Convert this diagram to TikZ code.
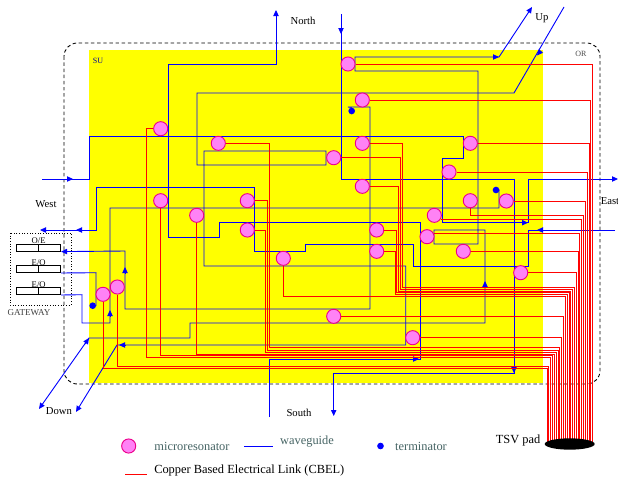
\documentclass[tikz,border=0pt]{standalone}
\usepackage{fontspec}
\setmainfont{Liberation Serif}
\usetikzlibrary{arrows.meta}
\usetikzlibrary{shapes.geometric}
\usetikzlibrary{backgrounds}
\definecolor{respink}{RGB}{255,130,245}
\definecolor{legendgray}{RGB}{70,100,100}
\definecolor{suyellow}{RGB}{255,255,0}
\definecolor{wgblue}{RGB}{0,0,255}
\definecolor{cbelred}{RGB}{255,0,0}

\begin{document}
\begin{tikzpicture}[
    x=0.75pt, y=-0.75pt,
    res/.style={circle, draw=magenta, fill=respink, line width=0.7pt, minimum size=10.6pt, inner sep=0pt},
    term/.style={circle, fill=wgblue, minimum size=5pt, inner sep=0pt},
    wg/.style={draw, color=wgblue, line width=0.68pt},
    wgtip/.style={wg, -{Triangle[length=4.5pt, width=4pt]}},
    cbel/.style={draw, color=cbelred, draw opacity=0.99, line width=0.6pt},
    conv/.style={rectangle, draw, line width=0.5pt, minimum width=33pt, minimum height=5.2pt, inner sep=0pt},
    txt/.style={inner sep=0pt, font=\fontsize{8}{9}\selectfont},
    small/.style={inner sep=0pt, font=\fontsize{6}{7}\selectfont},
    legend/.style={inner sep=0pt, font=\fontsize{9.3}{11}\selectfont}
]
\useasboundingbox (0,0) rectangle (618,482);

% --- Router labels ---
\node[small, text=blue!60!black] (su) at (98,61) {SU};
\node[small, text=black!70] (or) at (581,54) {OR};

% --- Gateway ---
\node[conv] (oe) at (38.7,247.8) {};
\node[conv] (eo1) at (38.7,269.2) {};
\node[conv] (eo2) at (38.7,291.2) {};
\foreach \c in {oe,eo1,eo2}
    \draw[line width=0.5pt] (\c.north) -- (\c.south);
\node[small, font=\fontsize{6.5}{7}\selectfont] (oel) at (38.7,241) {O/E};
\node[small, font=\fontsize{6.5}{7}\selectfont] (eol1) at (38.7,263) {E/O};
\node[small, font=\fontsize{6.5}{7}\selectfont] (eol2) at (38.7,285) {E/O};
\node[small, font=\fontsize{6.8}{8}\selectfont, text=black!75] (gw) at (29,313) {GATEWAY};

% --- Microresonators, numbered by their TSV ---
\foreach \i/\px/\py in {1/348/64, 2/362.3/100, 3/470.3/143.3, 4/449/172, 5/506.3/201,
    6/470.3/200.7, 7/434.3/215.3, 8/427/236.7, 9/463.3/251.3, 10/520.7/272.7,
    11/362.3/143.3, 12/333.7/157.7, 13/362.3/186.3, 14/376.7/230, 15/376.7/251.3,
    16/283.3/258.3, 17/333.7/316.3, 18/412.7/337.7, 19/218.3/143.3, 20/247.3/200.7,
    21/247.3/230, 22/196.7/215.3, 23/160.7/200.7, 24/160.7/128.7, 25/117.3/287, 26/103/294.3}
    \node[res] (r\i) at (\px,\py) {};

% --- Terminators ---
\node[term] (term1) at (351.7,111) {};
\node[term] (term2) at (496,190) {};
\node[term] (term3) at (92.7,305.7) {};

% --- TSV pad ---
\node[ellipse, fill=black, minimum width=37.5pt, minimum height=8.5pt, inner sep=0pt] (pad) at (569.7,444) {};
\foreach \i in {1,...,26}
    \coordinate (pad\i) at ({592.7-(\i-1)*1.83},444);

% --- Free ends of the waveguides ---
\coordinate (northout) at (276,10);
\coordinate (northin) at (341,14);
\coordinate (southin) at (269,417);
\coordinate (southout) at (333.7,416);
\coordinate (westin) at (42,179);
\coordinate (westout) at (40,230);
\coordinate (eastin) at (615,230);
\coordinate (eastout) at (618,179);
\coordinate (upin) at (564,7);
\coordinate (upout) at (532,7);
\coordinate (downa) at (39,409);
\coordinate (downb) at (76,412);

\begin{scope}[on background layer]
% --- Router areas ---
\fill[suyellow] (89,50) rectangle (543,382.5);
\draw[black, line width=0.65pt, dash pattern=on 2.6pt off 2pt, rounded corners=10pt] (64,43) rectangle (600,384);
\draw[black, line width=0.6pt, dash pattern=on 0.8pt off 1.2pt] (10,233) rectangle (71,305);

% --- Waveguides ---
\draw[wgtip] (southin) -- (269,359) -- (420,359) -- (420,222.7) -- (219,222.7) -- (219,237) -- (168,237) -- (168,64) -- (276,64) -- (northout);
\draw[wgtip] (upin) -- (514,93) -- (197,93) -- (197,165) -- (326,165) -- (326,151) -- (204,151) -- (204,266) -- (405.7,266) -- (405.7,345) -- (117,345) -- (downb);
\draw[wgtip] (westin) -- (89,179) -- (89,136) -- (463,136) -- (463,158) -- (442,158) -- (442,222) -- (528,222) -- (528,179) -- (eastout);
\draw[wgtip] (eastin) -- (528,230) -- (528,266) -- (413,266) -- (413,244) -- (305,244) -- (305,251) -- (254,251) -- (254,187) -- (96,187) -- (96,230) -- (westout);
\draw[wgtip] (northin) -- (341,179) -- (514,179) -- (514,373) -- (333.7,373) -- (southout);
\draw[wgtip] (term1.north) -- (348,107) -- (370,107) -- (370,309) -- (125,309) -- (125,251) -- (oe.south east);
\draw[wg] (eo2.south east) -- (82,294.7) -- (82,323) -- (110,323) -- (110,208) -- (499,208) -- (499,190) -- (term2);
\draw[wg] (eo1.south east) -- (96,272.7) -- (96,305.7) -- (term3);
\draw[wgtip, {Triangle[length=4.5pt, width=4pt]}-{Triangle[length=4.5pt, width=4pt]}] (downa) -- (89,338) -- (190,338) -- (190,323) -- (485,323) -- (485,230) -- (434,230) -- (434,244) -- (478,244) -- (478,71) -- (355,71) -- (355,57) -- (499,57) -- (upout);

% --- Arrows along the waveguides ---
\foreach \ax/\ay/\bx/\by in {341/28/341/34, 67/179/73/179, 82/230/76/230, 125/273/125/267,
    110/316/110/310, 125/345/119/345, 493/57/499/57, 540/52/537/55.5, 85/344/89/338,
    543/230/537/230, 522/222.7/528/222.7, 485/287/485/281, 514/367/514/373, 413/359/419/359}
    \draw[wgtip] (\ax,\ay) -- (\bx,\by);

% --- Links running straight to the TSV ---
\foreach \i in {1,2,3,4,5,9,10,17,18}
    \draw[cbel] (r\i) -| (pad\i);
\draw[cbel] (r7.-30) -| (pad7);
\draw[cbel] (r8.30) -| (pad8);

% --- Links with a side step before the bundle ---
\foreach \i/\vx/\by in {11/402.3/287.7, 12/400.7/289.3, 13/398.3/291, 14/396.7/292.7, 15/395/294.3,
    19/269/347.7, 20/267.3/350, 21/265.7/352.3, 24/146.5/357.3}
    \draw[cbel] (r\i) -| (\vx,\by) -| (pad\i);

% --- Links leaving downwards ---
\foreach \i/\by in {6/215.3, 16/296.3, 22/354, 23/355.7, 25/366.7, 26/368}
    \draw[cbel] (r\i) |- (pad\i |- 0,\by) -- (pad\i);
\end{scope}

% --- Direction labels ---
\node[txt] (north) at (303,21) {North};
\node[txt] (up) at (542,18) {Up};
\node[txt] (west) at (46,204) {West};
\node[txt] (east) at (610,201) {East};
\node[txt] (south) at (299,413) {South};
\node[txt] (down) at (59,411) {Down};

% --- Legend ---
\node[res] (legres) at (128.7,446) {};
\node[legend, text=legendgray] (legresl) at (192,446) {microresonator};
\coordinate (legwga) at (244,446);
\coordinate (legwgb) at (273,446);
\draw[wg, line width=0.6pt] (legwga) -- (legwgb);
\node[legend, text=legendgray] (legwgl) at (307,442) {waveguide};
\node[term] (legterm) at (380.5,446) {};
\node[legend, text=legendgray] (legterml) at (421,446) {terminator};
\node[legend] (legpad) at (518,441) {TSV pad};
\coordinate (legcua) at (125,474.7);
\coordinate (legcub) at (147,474.7);
\draw[cbel] (legcua) -- (legcub);
\node[legend, anchor=west] (legcul) at (154,471) {Copper Based Electrical Link (CBEL)};

\end{tikzpicture}
\end{document}
